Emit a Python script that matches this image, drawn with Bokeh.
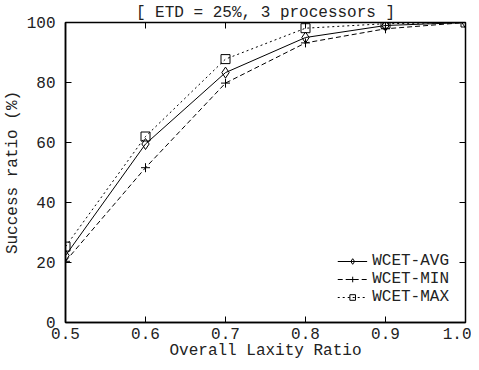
import math
from bokeh.plotting import figure
from bokeh.models import FixedTicker, PrintfTickFormatter, Legend, LegendItem, Range1d
from bokeh.embed import file_html
from bokeh.resources import INLINE

laxity = [0.5, 0.6, 0.7, 0.8, 0.9, 1.0]
wcet_avg = [22.3, 59.5, 83.3, 95.0, 99.0, 100.0]
wcet_min = [20.4, 51.6, 79.8, 93.2, 97.9, 100.0]
wcet_max = [25.3, 62.0, 87.8, 98.1, 99.6, 100.0]
x_ticks = [0.5, 0.6, 0.7, 0.8, 0.9, 1.0]
y_ticks = [0, 20, 40, 60, 80, 100]

FONT = "Liberation Mono"
FS = "16px"
TXT = "#222222"

p = figure(width=471, height=362, output_backend="svg", toolbar_location=None,
           x_range=Range1d(x_ticks[0], x_ticks[-1]), y_range=Range1d(y_ticks[0], y_ticks[-1]),
           x_axis_label="Overall Laxity Ratio", y_axis_label="Success ratio (%)",
           min_border_left=56, min_border_right=6, min_border_top=0, min_border_bottom=10)

p.title.text = "[ ETD = 25%, 3 processors ]"
p.title.text_font = FONT
p.title.text_font_size = FS
p.title.text_font_style = "normal"
p.title.text_color = TXT
p.title.align = "center"
p.title.standoff = 2

p.grid.visible = False
p.outline_line_color = "black"
p.outline_line_width = 1.5

for ax, ticks in ((p.xaxis[0], x_ticks), (p.yaxis[0], y_ticks)):
    ax.ticker = FixedTicker(ticks=ticks)
    ax.major_tick_in = 6
    ax.major_tick_out = 0
    ax.minor_tick_line_color = None
    ax.axis_line_width = 1.5
    ax.axis_line_color = "black"
    ax.major_tick_line_color = "black"
    ax.major_label_text_font = FONT
    ax.major_label_text_font_size = FS
    ax.major_label_text_color = TXT
    ax.axis_label_text_font = FONT
    ax.axis_label_text_font_size = FS
    ax.axis_label_text_font_style = "normal"
    ax.axis_label_text_color = TXT

p.xaxis[0].formatter = PrintfTickFormatter(format="%.1f")
p.xaxis[0].major_label_standoff = 5
p.xaxis[0].axis_label_standoff = 0
p.yaxis[0].major_label_standoff = 10
p.yaxis[0].axis_label_standoff = 2

# mirrored inward tick marks on the top and right edges of the frame
p.ray(x=x_ticks, y=[y_ticks[-1]] * len(x_ticks), length=6, length_units="screen",
      angle=-math.pi / 2, line_color="black", line_width=1)
p.ray(x=[x_ticks[-1]] * len(y_ticks), y=y_ticks, length=6, length_units="screen",
      angle=math.pi, line_color="black", line_width=1)

l_avg = p.line(laxity, wcet_avg, line_color="black", line_width=1)
m_avg = p.scatter(laxity, wcet_avg, marker="diamond", size=11, fill_color=None, line_color="black")
l_min = p.line(laxity, wcet_min, line_color="black", line_width=1, line_dash="5 3")
m_min = p.scatter(laxity, wcet_min, marker="cross", size=9, line_color="black")
l_max = p.line(laxity, wcet_max, line_color="black", line_width=1, line_dash="2 3")
m_max = p.scatter(laxity, wcet_max, marker="square", size=9, fill_color=None, line_color="black")

legend = Legend(items=[
    LegendItem(label="WCET-AVG", renderers=[l_avg, m_avg]),
    LegendItem(label="WCET-MIN", renderers=[l_min, m_min]),
    LegendItem(label="WCET-MAX", renderers=[l_max, m_max]),
], location="bottom_right")
legend.label_text_font = FONT
legend.label_text_font_size = FS
legend.label_text_color = TXT
legend.border_line_color = None
legend.background_fill_alpha = 0
legend.glyph_width = 30
legend.glyph_height = 14
legend.label_height = 14
legend.spacing = -4
legend.padding = 4
legend.margin = 16
p.add_layout(legend)

open("out.html", "w").write(file_html(p, INLINE))
